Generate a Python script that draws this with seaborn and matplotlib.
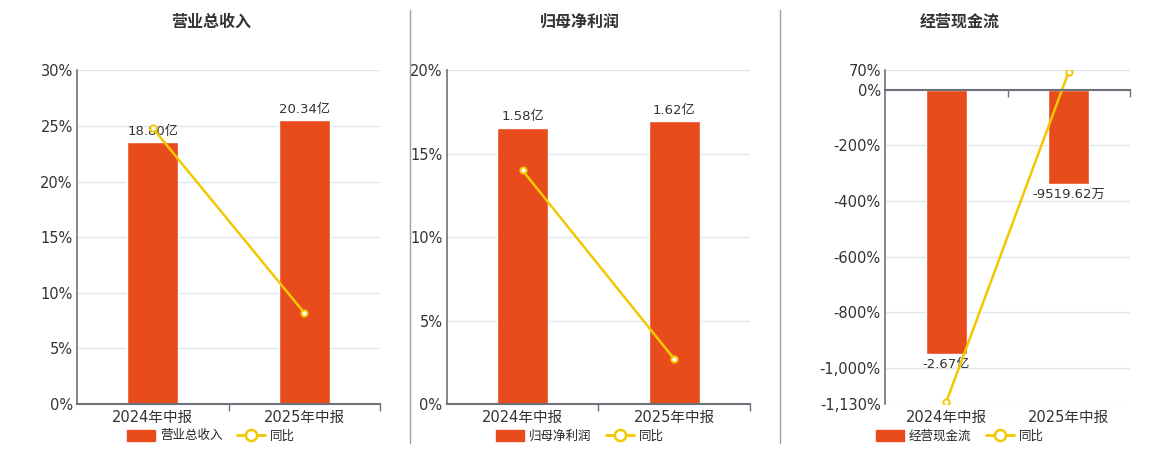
import pandas as pd
import seaborn as sns
import matplotlib.pyplot as plt
from matplotlib.lines import Line2D
from matplotlib.patches import Patch
from matplotlib.ticker import FuncFormatter

periods = ['2024年中报', '2025年中报']
titles = ['营业总收入', '归母净利润', '经营现金流']

# bar amounts (亿 for the first two, 万 for cash flow)
revenue = [18.80, 20.34]
profit = [1.58, 1.62]
cashflow = [-26700, -9519.62]
revenue_labels = ['18.80亿', '20.34亿']
profit_labels = ['1.58亿', '1.62亿']
cashflow_labels = ['-2.67亿', '-9519.62万']

# year-on-year, %
revenue_yoy = [24.8, 8.2]
profit_yoy = [14.0, 2.7]
cashflow_yoy = [-1123, 65]

revenue_ticks = [0, 5, 10, 15, 20, 25, 30]
profit_ticks = [0, 5, 10, 15, 20]
cashflow_ticks = [70, 0, -200, -400, -600, -800, -1000, -1130]

BAR = '#E84C1D'
LINE = '#F2C800'
AXIS = '#6E7079'
GRID = '#E0E6F1'
TEXT = '#333333'

sns.set_theme(style='white')
plt.rcParams['font.family'] = ['DejaVu Sans', 'Noto Sans CJK SC']

W, H = 1160, 450
fig = plt.figure(figsize=(W / 100, H / 100), dpi=100)


def draw_panel(px_left, px_right, cx, title, amounts, labels, yoy, ticks, bar_lim):
    rect = [px_left / W, (H - 404) / H, (px_right - px_left) / W, (404 - 70.3) / H]
    df = pd.DataFrame({'period': periods, 'amount': amounts, 'yoy': yoy})
    lo, hi = min(ticks), max(ticks)

    # base axis: percent scale, grid, tick labels
    ax = fig.add_axes(rect)
    ax.set_zorder(1)
    ax.set_ylim(lo, hi)
    ax.set_yticks(ticks)
    ax.yaxis.set_major_formatter(FuncFormatter(lambda v, p: f'{v:,.0f}%'))
    ax.grid(axis='y', color=GRID, lw=1)
    ax.grid(axis='x', visible=False)
    for s in ['top', 'right', 'bottom']:
        ax.spines[s].set_visible(False)
    ax.spines['left'].set_color(AXIS)
    ax.spines['left'].set_linewidth(1.2)
    ax.tick_params(axis='y', length=0, labelsize=10.5, labelcolor=TEXT, pad=3)

    # bars on their own hidden scale
    axb = ax.twinx()
    axb.set_zorder(2)
    sns.barplot(data=df, x='period', y='amount', ax=axb, color=BAR,
                width=0.335, saturation=1)
    axb.set_ylim(*bar_lim)
    axb.set_xlabel('')
    axb.set_ylabel('')
    axb.set_yticks([])
    for s in axb.spines.values():
        s.set_visible(False)
    axb.bar_label(axb.containers[0], labels=labels, padding=3,
                  fontsize=9.5, color=TEXT)

    # yoy line on top
    axl = ax.twinx()
    axl.set_zorder(3)
    sns.lineplot(data=df, x='period', y='yoy', ax=axl, color=LINE, lw=1.8,
                 marker='o', markersize=4.5, markerfacecolor='white',
                 markeredgecolor=LINE, markeredgewidth=1.4)
    axl.set_ylim(lo, hi)
    axl.set_yticks([])
    axl.set_xlabel('')
    axl.set_ylabel('')
    for s in ['top', 'right', 'left']:
        axl.spines[s].set_visible(False)
    axl.xaxis.set_visible(True)
    axl.spines['bottom'].set_visible(True)
    axl.spines['bottom'].set_position(('data', 0))
    axl.spines['bottom'].set_color(AXIS)
    axl.spines['bottom'].set_linewidth(1.5)

    ax.set_xlim(-0.5, 1.5)
    ax.set_xticks([0, 1])
    ax.set_xticklabels(periods)
    ax.set_xticks([0.5, 1.5], minor=True)
    ax.set_xlabel('')
    ax.set_ylabel('')
    ax.tick_params(axis='x', which='both', length=0, labelsize=10.5,
                   labelcolor=TEXT, pad=4)
    axb.tick_params(axis='x', which='both', bottom=False, labelbottom=False)
    axl.tick_params(axis='x', which='major', length=0, labelbottom=False)
    axl.tick_params(axis='x', which='minor', bottom=True, length=5,
                    direction='out', color=AXIS, width=1, labelbottom=False)

    fig.text(cx / W, 1 - 22 / H, title, ha='center', va='center',
             fontsize=11.5, fontweight='bold', color=TEXT)
    handles = [Patch(facecolor=BAR, edgecolor=BAR),
               Line2D([], [], color=LINE, lw=2, marker='o', markersize=8,
                      markerfacecolor='white', markeredgecolor=LINE,
                      markeredgewidth=1.8)]
    fig.legend(handles, [title, '同比'], loc='center',
               bbox_to_anchor=(cx / W, 14 / H), ncol=2, frameon=False,
               fontsize=9, handlelength=2.2, handleheight=1.0,
               columnspacing=1.2, handletextpad=0.4)


draw_panel(77, 380, 211, titles[0], revenue, revenue_labels, revenue_yoy,
           revenue_ticks, (0, 23.92))
draw_panel(446.7, 750, 580, titles[1], profit, profit_labels, profit_yoy,
           profit_ticks, (0, 1.908))
draw_panel(885, 1130, 960, titles[2], cashflow, cashflow_labels, cashflow_yoy,
           cashflow_ticks, (-1130 * 28.1, 70 * 28.1))

for x in [410, 780]:
    fig.add_artist(Line2D([x / W, x / W], [1 - 10 / H, 1 - 443 / H],
                          color='#A0A0A0', lw=1))

fig.savefig('out.png', dpi=100, facecolor='white')
